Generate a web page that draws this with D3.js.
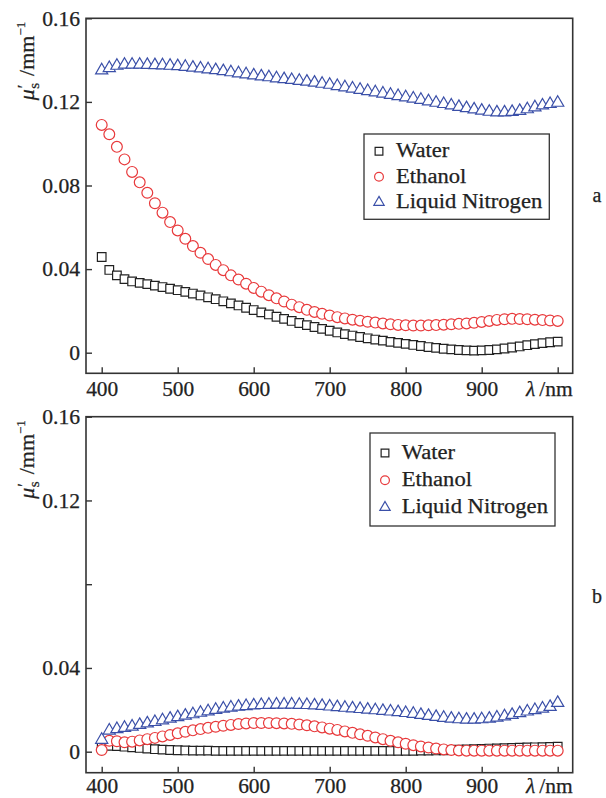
<!DOCTYPE html>
<html><head><meta charset="utf-8">
<script src="https://cdn.jsdelivr.net/npm/d3@7/dist/d3.min.js"></script>
<style>body{margin:0;background:#fff}svg{display:block}svg text{font-family:"Liberation Serif","Tinos","Times New Roman","DejaVu Serif",serif !important;fill:#222;stroke:#222;stroke-width:0.25px}</style>
</head><body>
<svg id="c" width="606" height="798"></svg>
<script>
const wavelengths = d3.range(400, 1001, 10);
const xTicks = [400,500,600,700,800,900,1000];
const xTickLabels = ["400","500","600","700","800","900",""];
const yTicks = [0,0.04,0.08,0.12,0.16];
const yTickLabelsA = ["0","0.04","0.08","0.12","0.16"];
const yTickLabelsB = ["0","0.04","","0.12","0.16"];
const seriesNames = ["Water","Ethanol","Liquid Nitrogen"];

const waterA = [0.0458,0.0396,0.0370,0.0352,0.0341,0.0334,0.0328,0.0321,0.0314,0.0306,0.0299,0.0291,0.0283,0.0274,0.0265,0.0256,0.0246,0.0236,0.0226,0.0215,0.0204,0.0193,0.0183,0.0172,0.0162,0.0152,0.0142,0.0132,0.0123,0.0114,0.0105,0.0097,0.0089,0.0082,0.0075,0.0069,0.0063,0.0058,0.0052,0.0047,0.0042,0.0037,0.0032,0.0027,0.0023,0.0019,0.0016,0.0013,0.0011,0.0010,0.0011,0.0013,0.0016,0.0020,0.0025,0.0030,0.0036,0.0041,0.0046,0.0050,0.0053];
const ethanolA = [0.1090,0.1045,0.0985,0.0925,0.0865,0.0815,0.0765,0.0715,0.0670,0.0625,0.0585,0.0545,0.0510,0.0478,0.0448,0.0420,0.0395,0.0370,0.0350,0.0330,0.0310,0.0292,0.0275,0.0260,0.0245,0.0230,0.0218,0.0205,0.0195,0.0186,0.0178,0.0170,0.0164,0.0158,0.0153,0.0148,0.0144,0.0140,0.0136,0.0133,0.0131,0.0130,0.0130,0.0131,0.0132,0.0134,0.0136,0.0138,0.0140,0.0143,0.0147,0.0152,0.0157,0.0160,0.0162,0.0161,0.0160,0.0158,0.0156,0.0154,0.0152];
const nitrogenA = [0.1351,0.1362,0.1373,0.1378,0.1378,0.1378,0.1377,0.1376,0.1375,0.1373,0.1371,0.1368,0.1364,0.1360,0.1356,0.1352,0.1347,0.1342,0.1337,0.1332,0.1327,0.1322,0.1318,0.1313,0.1309,0.1305,0.1301,0.1297,0.1292,0.1287,0.1282,0.1276,0.1270,0.1264,0.1258,0.1252,0.1246,0.1240,0.1234,0.1228,0.1222,0.1216,0.1210,0.1203,0.1196,0.1190,0.1183,0.1176,0.1170,0.1164,0.1158,0.1153,0.1150,0.1150,0.1152,0.1157,0.1165,0.1174,0.1183,0.1190,0.1196];

const waterB = [0.0022,0.0028,0.0027,0.0024,0.0021,0.0018,0.0015,0.0012,0.0010,0.0008,0.0007,0.0006,0.0005,0.0005,0.0005,0.0004,0.0004,0.0004,0.0004,0.0004,0.0004,0.0004,0.0004,0.0004,0.0004,0.0004,0.0004,0.0004,0.0004,0.0004,0.0004,0.0004,0.0004,0.0004,0.0004,0.0004,0.0004,0.0004,0.0004,0.0004,0.0004,0.0004,0.0005,0.0005,0.0006,0.0007,0.0008,0.0010,0.0011,0.0012,0.0013,0.0015,0.0016,0.0017,0.0018,0.0019,0.0020,0.0021,0.0022,0.0023,0.0024];
const ethanolB = [0.0008,0.0052,0.0050,0.0045,0.0048,0.0054,0.0060,0.0066,0.0073,0.0080,0.0088,0.0095,0.0102,0.0108,0.0114,0.0119,0.0124,0.0128,0.0132,0.0135,0.0137,0.0137,0.0137,0.0136,0.0135,0.0133,0.0130,0.0126,0.0121,0.0116,0.0110,0.0104,0.0097,0.0090,0.0083,0.0076,0.0068,0.0060,0.0052,0.0045,0.0038,0.0031,0.0025,0.0020,0.0015,0.0011,0.0008,0.0006,0.0005,0.0005,0.0005,0.0005,0.0005,0.0005,0.0005,0.0005,0.0005,0.0005,0.0005,0.0005,0.0005];
const nitrogenB = [0.0057,0.0101,0.0108,0.0114,0.0120,0.0128,0.0135,0.0142,0.0150,0.0158,0.0165,0.0172,0.0179,0.0186,0.0193,0.0200,0.0206,0.0211,0.0215,0.0218,0.0221,0.0223,0.0224,0.0225,0.0225,0.0225,0.0224,0.0223,0.0221,0.0219,0.0216,0.0213,0.0210,0.0207,0.0204,0.0201,0.0198,0.0195,0.0192,0.0189,0.0185,0.0181,0.0176,0.0171,0.0166,0.0162,0.0158,0.0155,0.0153,0.0153,0.0155,0.0158,0.0163,0.0169,0.0176,0.0184,0.0192,0.0199,0.0206,0.0214,0.0233];

const colors = ["#222222","#e8393b","#3a4fa8"];
const FONT = "'Liberation Serif','Tinos','Times New Roman','DejaVu Serif',serif";
const svg = d3.select("#c");

function stretch(sel, k){
  sel.each(function(){ const w=this.getComputedTextLength(); if(w>0){ d3.select(this).attr("textLength", w*k).attr("lengthAdjust","spacingAndGlyphs"); } });
  return sel;
}

const x = d3.scaleLinear().domain([400,1000]).range([101.7,557.7]);
const frameL = 86, frameR = 572.7;

const shapes = [
  d3.symbol().type(d3.symbolSquare).size(74),
  d3.symbol().type(d3.symbolCircle).size(Math.PI*5.4*5.4),
  d3.symbol().type(d3.symbolTriangle).size(64)
];
const legShapes = [
  d3.symbol().type(d3.symbolSquare).size(60),
  d3.symbol().type(d3.symbolCircle).size(Math.PI*4.4*4.4),
  d3.symbol().type(d3.symbolTriangle).size(46)
];

function panel(cfg){
  const y = d3.scaleLinear().domain([0,0.16]).range([cfg.zeroY, cfg.topY]);
  const g = svg.append("g").attr("font-family",FONT);
  cfg.series.forEach((vals,si)=>{
    g.append("g").selectAll("path").data(vals).join("path")
      .attr("d", shapes[si]())
      .attr("transform",(d,i)=>`translate(${x(wavelengths[i])},${y(d)})`)
      .attr("fill","#fff").attr("stroke",colors[si]).attr("stroke-width",1.2);
  });
  g.append("rect").attr("x",frameL).attr("y",cfg.topY).attr("width",frameR-frameL).attr("height",cfg.bottomY-cfg.topY)
    .attr("fill","none").attr("stroke","#333").attr("stroke-width",1.6);
  const xa = g.append("g").attr("transform",`translate(0,${cfg.bottomY})`)
    .call(d3.axisBottom(x).tickValues(xTicks).tickSize(-6).tickFormat((d,i)=>xTickLabels[i]));
  xa.attr("font-family",FONT).attr("font-size",20);
  xa.select(".domain").remove();
  xa.selectAll(".tick line").attr("stroke","#333").attr("stroke-width",1.4);
  xa.selectAll(".tick text").attr("y",cfg.xLabOff).attr("dy",0).attr("fill","#222");
  stretch(xa.selectAll(".tick text"),1.07);
  const ya = g.append("g").attr("transform",`translate(${frameL},0)`)
    .call(d3.axisLeft(y).tickValues(yTicks).tickSize(-6).tickFormat((d,i)=>cfg.yLabels[i]));
  ya.attr("font-family",FONT).attr("font-size",20);
  ya.select(".domain").remove();
  ya.selectAll(".tick line").attr("stroke","#333").attr("stroke-width",1.4);
  ya.selectAll(".tick text").attr("x",-6).attr("dy","0.34em").attr("fill","#222");
  stretch(ya.selectAll(".tick text"),1.08);
  const yt = g.append("text").attr("transform",`translate(34,${cfg.topY+82}) rotate(-90)`).attr("font-size",22);
  yt.append("tspan").style("font-style","italic").text("μ");
  yt.append("tspan").attr("dy",-5).attr("dx",1).attr("font-size",16).text("′");
  yt.append("tspan").attr("dy",10).attr("dx",-4).attr("font-size",15).text("s");
  yt.append("tspan").attr("dy",-5).attr("dx",7).text("/mm");
  yt.append("tspan").attr("dy",-9).attr("font-size",13).text("−1");
  const xt = g.append("text").attr("x",frameR).attr("y",cfg.bottomY+cfg.xLabOff).attr("text-anchor","end").attr("font-size",21);
  xt.append("tspan").style("font-style","italic").text("λ");
  xt.append("tspan").attr("dx",4).text("/nm");
  stretch(xt,1.12);
  g.append("text").attr("x",597).attr("y",cfg.letterY).attr("text-anchor","middle").attr("font-size",20).text(cfg.letter);
  const L = cfg.legend;
  g.append("rect").attr("x",L.x0).attr("y",L.y0).attr("width",L.x1-L.x0).attr("height",L.y1-L.y0)
    .attr("fill","#fff").attr("stroke","#333").attr("stroke-width",1.3);
  seriesNames.forEach((nm,i)=>{
    const by = L.base + i*L.step;
    g.append("path").attr("d",legShapes[i]()).attr("transform",`translate(${L.mx},${by-6})`)
      .attr("fill","#fff").attr("stroke",colors[i]).attr("stroke-width",1.2);
    const t = g.append("text").attr("x",L.tx).attr("y",by).attr("font-size",20).text(nm);
    stretch(t,1.13);
  });
}

panel({topY:18.3, zeroY:352.7, bottomY:373.3, yLabels:yTickLabelsA, letter:"a", letterY:202, xLabOff:23,
  series:[waterA,ethanolA,nitrogenA],
  legend:{x0:364,x1:549.3,y0:134,y1:219.3,mx:379,tx:396,base:157.3,step:25.5}});
panel({topY:416.7, zeroY:751.7, bottomY:772.7, yLabels:yTickLabelsB, letter:"b", letterY:603, xLabOff:20,
  series:[waterB,ethanolB,nitrogenB],
  legend:{x0:370,x1:555,y0:433,y1:526,mx:385,tx:401.7,base:459,step:27.2}});
</script>
</body></html>
